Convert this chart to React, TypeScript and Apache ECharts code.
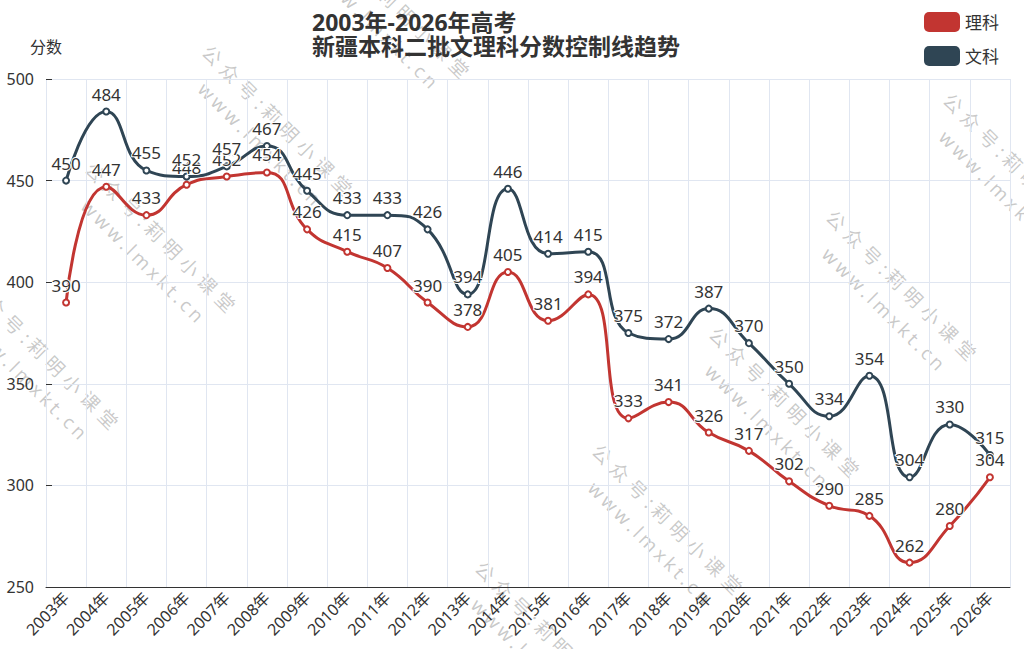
import React, { useEffect, useRef } from 'react';
import * as echarts from 'echarts';

const FONT = '"Noto Sans", "Noto Sans CJK SC", sans-serif';

const years = [
  '2003年', '2004年', '2005年', '2006年', '2007年', '2008年', '2009年', '2010年',
  '2011年', '2012年', '2013年', '2014年', '2015年', '2016年', '2017年', '2018年',
  '2019年', '2020年', '2021年', '2022年', '2023年', '2024年', '2025年', '2026年',
];
const scienceScores = [390, 447, 433, 448, 452, 454, 426, 415, 407, 390, 378, 405, 381, 394, 333, 341, 326, 317, 302, 290, 285, 262, 280, 304];
const artsScores = [450, 484, 455, 452, 457, 467, 445, 433, 433, 426, 394, 446, 414, 415, 375, 372, 387, 370, 350, 334, 354, 304, 330, 315];
const seriesNames = ['理科', '文科'];
const seriesColors = ['#c23531', '#2f4554'];
const yMin = 250;
const yMax = 500;
const yInterval = 50;
const titleText = '2003年-2026年高考\n新疆本科二批文理科分数控制线趋势';
const yName = '分数';
const watermarkLines = ['公众号:莉明小课堂', 'www.lmxkt.cn'];

function buildWatermarks() {
  const size = 19;
  const font = `${size}px "Noto Sans", "Noto Sans CJK SC"`;
  const ctx = document.createElement('canvas').getContext('2d') as CanvasRenderingContext2D;
  ctx.font = font;
  const layoutLine = (str: string) => {
    const items: { ch: string; x: number }[] = [];
    let x = 0;
    for (const ch of Array.from(str)) {
      items.push({ ch, x });
      const cjk = ch.charCodeAt(0) > 0x2e80;
      x += ctx.measureText(ch).width + (cjk ? 6 : 3.5);
    }
    return { items, width: x };
  };
  const l1 = layoutLine(watermarkLines[0]);
  const l2 = layoutLine(watermarkLines[1]);
  const off2 = (l1.width - l2.width) / 2 + 3;
  const color = 'rgba(100,100,100,0.34)';
  const mk = (ch: string, x: number, y: number) => ({
    type: 'text',
    x,
    y,
    silent: true,
    style: { text: ch, font, fill: color, verticalAlign: 'top', textVerticalAlign: 'top' },
  });
  const children: any[] = [];
  l1.items.forEach((it) => children.push(mk(it.ch, it.x, 0)));
  l2.items.forEach((it) => children.push(mk(it.ch, off2 + it.x, 29)));

  const origins: [number, number][] = [];
  for (let k = -2; k <= 1; k++) origins.push([212 + 117 * k, 42 - 117 * k]);
  for (let k = -3; k <= 1; k++) origins.push([836 + 117 * k, 207 - 117 * k]);
  return origins.map(([x, y]) => ({
    type: 'group',
    x,
    y,
    rotation: -Math.PI / 4,
    silent: true,
    z: 100,
    children: children.map((c) => ({ ...c, style: { ...c.style } })),
  }));
}

export default function App() {
  const ref = useRef<HTMLDivElement>(null);
  useEffect(() => {
    if (!ref.current) return;
    const chart = echarts.init(ref.current, undefined, { renderer: 'svg' });
    const labelStyle = {
      show: true,
      position: 'top',
      fontSize: 17,
      color: '#333',
      fontFamily: FONT,
      textBorderColor: '#fff',
      textBorderWidth: 2,
    };
    const option: any = {
      animation: false,
      textStyle: { fontFamily: FONT },
      title: {
        text: titleText,
        left: 307,
        top: 5,
        textStyle: { fontSize: 23, fontWeight: 'bold', color: '#333', lineHeight: 24, fontFamily: FONT },
      },
      legend: {
        data: seriesNames,
        orient: 'vertical',
        right: 20,
        top: 7,
        itemWidth: 36,
        itemHeight: 20,
        itemGap: 14,
        icon: 'roundRect',
        textStyle: { fontSize: 17, color: '#333', fontFamily: FONT },
      },
      grid: { left: 46, right: 14, top: 79, bottom: 62 },
      xAxis: {
        type: 'category',
        data: years,
        boundaryGap: true,
        axisLine: { lineStyle: { color: '#333' } },
        axisTick: { alignWithLabel: true, inside: true, length: 5, lineStyle: { color: '#333' } },
        axisLabel: { rotate: 45, interval: 0, fontSize: 16, color: '#333', margin: 8, fontFamily: FONT },
        splitLine: { show: true, lineStyle: { color: '#E0E6F1' } },
      },
      yAxis: {
        type: 'value',
        min: yMin,
        max: yMax,
        interval: yInterval,
        name: yName,
        nameGap: 24,
        nameTextStyle: { fontSize: 16, color: '#333', fontFamily: FONT },
        axisLine: { show: false },
        axisTick: { show: true, inside: true, length: 6, lineStyle: { color: '#333' } },
        axisLabel: { fontSize: 16, color: '#333', margin: 12, fontFamily: FONT },
        splitLine: { show: true, lineStyle: { color: '#E0E6F1' } },
      },
      series: [scienceScores, artsScores].map((data, i) => ({
        name: seriesNames[i],
        type: 'line',
        data,
        smooth: true,
        symbol: 'emptyCircle',
        symbolSize: 6,
        itemStyle: { color: seriesColors[i], borderWidth: 2 },
        lineStyle: { width: 3, color: seriesColors[i] },
        label: labelStyle,
      })),
      graphic: buildWatermarks(),
    };
    chart.setOption(option);
    return () => chart.dispose();
  }, []);
  return (
    <div
      ref={ref}
      style={{ position: 'absolute', left: 0, top: 0, width: 1024, height: 649, background: '#fff' }}
    />
  );
}
